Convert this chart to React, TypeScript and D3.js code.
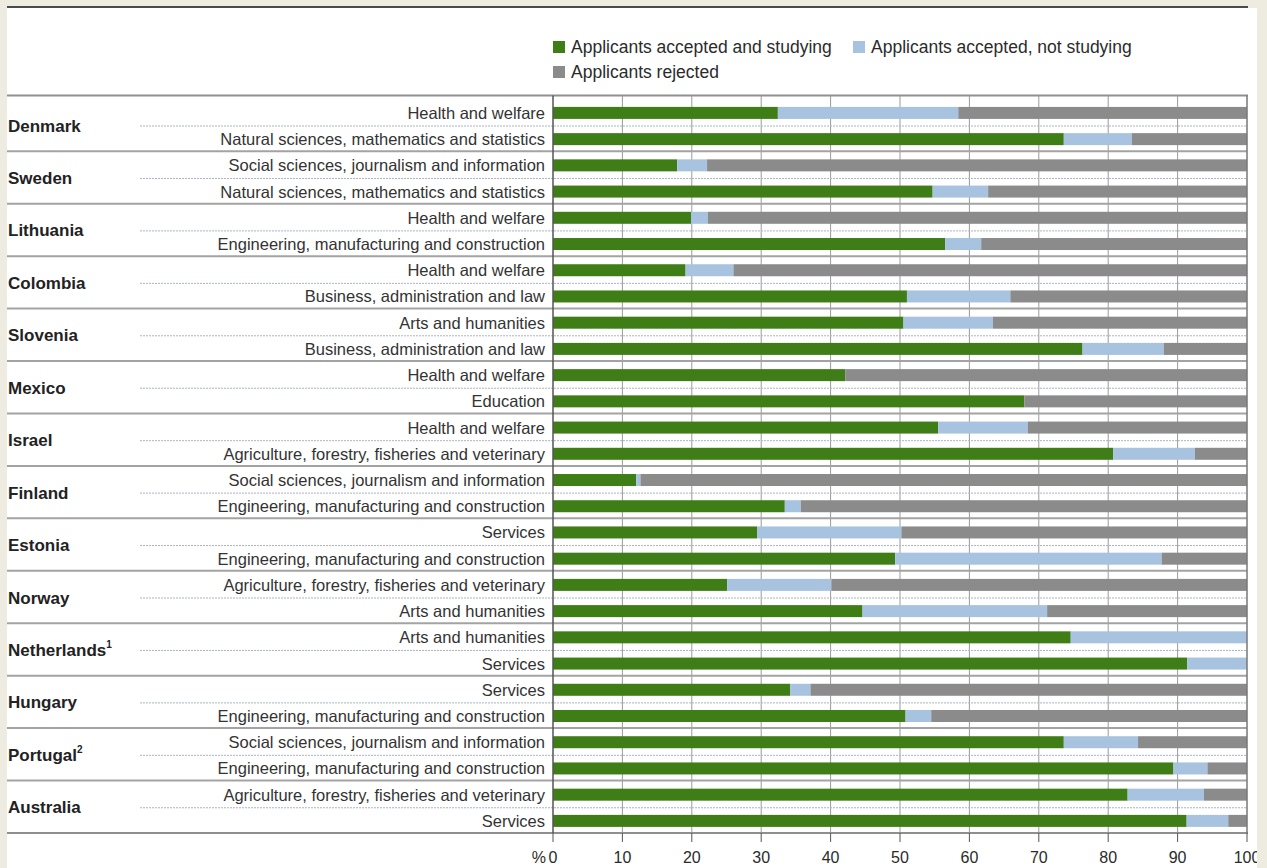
import React from "react";
import * as d3 from "d3";

const countries = [
  "Denmark", "Sweden", "Lithuania", "Colombia", "Slovenia", "Mexico", "Israel",
  "Finland", "Estonia", "Norway", "Netherlands", "Hungary", "Portugal", "Australia",
];
const countryNotes = ["", "", "", "", "", "", "", "", "", "", "1", "", "2", ""];

const fields = [
  "Health and welfare", "Natural sciences, mathematics and statistics",
  "Social sciences, journalism and information", "Natural sciences, mathematics and statistics",
  "Health and welfare", "Engineering, manufacturing and construction",
  "Health and welfare", "Business, administration and law",
  "Arts and humanities", "Business, administration and law",
  "Health and welfare", "Education",
  "Health and welfare", "Agriculture, forestry, fisheries and veterinary",
  "Social sciences, journalism and information", "Engineering, manufacturing and construction",
  "Services", "Engineering, manufacturing and construction",
  "Agriculture, forestry, fisheries and veterinary", "Arts and humanities",
  "Arts and humanities", "Services",
  "Services", "Engineering, manufacturing and construction",
  "Social sciences, journalism and information", "Engineering, manufacturing and construction",
  "Agriculture, forestry, fisheries and veterinary", "Services",
];

const acceptedStudying = [
  32.4, 73.6, 17.9, 54.7, 19.9, 56.5, 19.1, 51.0, 50.5, 76.3, 42.1, 67.9, 55.5, 80.7,
  12.0, 33.4, 29.4, 49.3, 25.1, 44.6, 74.6, 91.4, 34.2, 50.8, 73.6, 89.4, 82.8, 91.3,
];
const acceptedNotStudying = [
  26.0, 9.8, 4.3, 8.0, 2.4, 5.2, 6.9, 14.9, 12.9, 11.7, 0, 0, 12.9, 11.8,
  0.6, 2.3, 20.8, 38.4, 15.0, 26.6, 25.4, 8.6, 2.9, 3.7, 10.7, 4.9, 11.0, 6.0,
];

const seriesKeys = ["studying", "notStudying", "rejected"];
const seriesNames = [
  "Applicants accepted and studying",
  "Applicants accepted, not studying",
  "Applicants rejected",
];
const seriesColors = ["#3f7d17", "#a7c3e0", "#8b8b8b"];
const xTicks = [0, 10, 20, 30, 40, 50, 60, 70, 80, 90, 100];

const FONT = "'Liberation Sans', Arial, Helvetica, sans-serif";

export default function App() {
  const W = 1267;
  const H = 868;
  const x = d3.scaleLinear().domain([0, 100]).range([553, 1247]);
  const gScale = d3.scaleBand<string>().domain(countries).range([98.8, 833]);
  const bw = gScale.bandwidth();
  const inner = d3.scaleBand<string>().domain(["0", "1"]).range([1, bw + 1]);
  const barH = 12;

  const table = fields.map((f, i) => ({
    index: i,
    country: countries[Math.floor(i / 2)],
    field: f,
    studying: acceptedStudying[i],
    notStudying: acceptedNotStudying[i],
    rejected: Math.max(0, 100 - acceptedStudying[i] - acceptedNotStudying[i]),
  }));
  const stacked = d3.stack<any>().keys(seriesKeys)(table);
  const rowY = (i: number) =>
    (gScale(countries[Math.floor(i / 2)]) as number) + (inner(String(i % 2)) as number) + inner.bandwidth() / 2;

  const top = 95.5;
  const bottom = 833;

  return (
    <svg width={W} height={H} style={{ position: "absolute", left: 0, top: 0 }} fontFamily={FONT}>
      <rect x={0} y={0} width={W} height={H} fill="#eeebe0" />
      <rect x={7} y={8} width={1250} height={H - 8} fill="#ffffff" />
      <line x1={7} x2={1248} y1={7} y2={7} stroke="#4a4a4a" strokeWidth={2} />

      {/* legend */}
      <g>
        {[
          { k: 0, lx: 553, ly: 47 },
          { k: 1, lx: 853, ly: 47 },
          { k: 2, lx: 553, ly: 72 },
        ].map((d) => (
          <g key={d.k}>
            <rect x={d.lx} y={d.ly - 6} width={12} height={12} fill={seriesColors[d.k]} />
            <text x={d.lx + 18} y={d.ly} dominantBaseline="central" fontSize={17.5} fill="#2b2b2b">
              {seriesNames[d.k]}
            </text>
          </g>
        ))}
      </g>

      {/* vertical gridlines */}
      {xTicks.slice(1, -1).map((t) => (
        <line key={"g" + t} x1={x(t)} x2={x(t)} y1={top} y2={bottom} stroke="#9a9a9a" strokeWidth={1} />
      ))}

      {/* dotted separators within groups */}
      {countries.map((c) => {
        const y = (gScale(c) as number) + bw / 2 + 1;
        return (
          <line key={"d" + c} x1={140} x2={1247} y1={y} y2={y} stroke="#aab3c4" strokeWidth={1} strokeDasharray="2,1" />
        );
      })}

      {/* bars */}
      {stacked.map((layer, k) => (
        <g key={layer.key} fill={seriesColors[k]}>
          {layer.map((seg, i) =>
            seg[1] - seg[0] > 0 ? (
              <rect key={i} x={x(seg[0])} y={rowY(i) - barH / 2} width={x(seg[1]) - x(seg[0])} height={barH} />
            ) : null
          )}
        </g>
      ))}

      {/* group separators */}
      {countries.slice(1).map((c) => {
        const y = gScale(c) as number;
        return <line key={"s" + c} x1={7} x2={1247} y1={y} y2={y} stroke="#a3a3a3" strokeWidth={2} />;
      })}
      <line x1={7} x2={1248} y1={top} y2={top} stroke="#8f8f8f" strokeWidth={2} />
      <line x1={7} x2={1248} y1={bottom} y2={bottom} stroke="#8f8f8f" strokeWidth={2} />
      <line x1={x(0)} x2={x(0)} y1={top} y2={bottom} stroke="#555" strokeWidth={1.5} />
      <line x1={x(100)} x2={x(100)} y1={top} y2={bottom} stroke="#777" strokeWidth={1.5} />

      {/* x axis ticks */}
      {xTicks.map((t) => (
        <g key={"t" + t}>
          <line x1={x(t)} x2={x(t)} y1={bottom} y2={bottom + 9} stroke="#555" strokeWidth={1} />
          <text x={x(t)} y={857} textAnchor="middle" dominantBaseline="central" fontSize={16} fill="#2b2b2b">
            {t}
          </text>
        </g>
      ))}
      <text x={546} y={857} textAnchor="end" dominantBaseline="central" fontSize={16} fill="#2b2b2b">%</text>

      {/* country labels */}
      {countries.map((c, i) => (
        <text key={"c" + c} x={8} y={(gScale(c) as number) + bw / 2 + 1} dominantBaseline="central"
          fontSize={17} fontWeight="bold" fill="#222">
          {c}
          {countryNotes[i] ? (
            <tspan fontSize={10} dy={-6}>{countryNotes[i]}</tspan>
          ) : null}
        </text>
      ))}

      {/* field labels */}
      {table.map((d, i) => (
        <text key={"f" + i} x={545} y={rowY(i)} textAnchor="end" dominantBaseline="central" fontSize={16.5} fill="#333">
          {d.field}
        </text>
      ))}

      <rect x={1257} y={0} width={10} height={H} fill="#eeebe0" />
    </svg>
  );
}
